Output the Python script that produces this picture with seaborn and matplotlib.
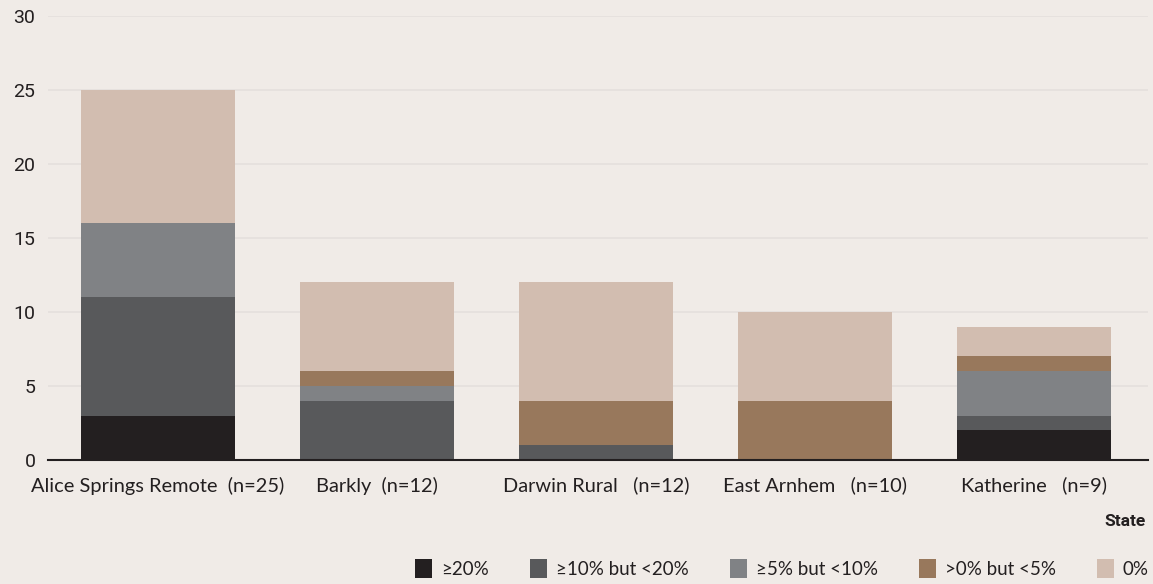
import matplotlib
matplotlib.use("Agg")
import matplotlib.pyplot as plt
from matplotlib.patches import Patch
import numpy as np
import pandas as pd
import seaborn as sns

# Districts and counts per prevalence band
states = [
    "Alice Springs Remote  (n=25)",
    "Barkly  (n=12)",
    "Darwin Rural   (n=12)",
    "East Arnhem   (n=10)",
    "Katherine   (n=9)",
]
band_labels = ["≥20%", "≥10% but <20%", "≥5% but <10%", ">0% but <5%", "0%"]
ge20 = [3, 0, 0, 0, 2]
ge10_lt20 = [8, 4, 1, 0, 1]
ge5_lt10 = [5, 1, 0, 0, 3]
gt0_lt5 = [0, 1, 3, 4, 1]
zero = [9, 6, 8, 6, 2]
y_ticks = [0, 5, 10, 15, 20, 25, 30]

colors = ["#231F20", "#58595B", "#808285", "#98785C", "#D2BDB0"]
bg = "#F0EBE7"

sns.set_theme(style="white")
plt.rcParams["font.family"] = ["Lato", "DejaVu Sans"]

fig = plt.figure(figsize=(11.53, 5.84), dpi=100, facecolor=bg)
ax = fig.add_axes([0.0416, 0.2123, 0.954, 0.7603])
ax.set_facecolor(bg)

series = [ge20, ge10_lt20, ge5_lt10, gt0_lt5, zero]
df = pd.DataFrame({lab: vals for lab, vals in zip(band_labels, series)}, index=states)
cum = df.cumsum(axis=1)

# Stacked bars: draw the cumulative totals from the top band down
for lab, col in reversed(list(zip(band_labels, colors))):
    sns.barplot(x=states, y=cum[lab].values, color=col, saturation=1,
                width=0.703, ax=ax, edgecolor="none", linewidth=0, zorder=3)

ax.set_ylim(0, 30)
ax.set_xlim(-0.502, 4.52)
ax.set_yticks(y_ticks)
ax.yaxis.grid(True, color="#E4E0DD", linewidth=1.2, zorder=0)
ax.set_axisbelow(True)
for s in ["top", "right", "left"]:
    ax.spines[s].set_visible(False)
ax.spines["bottom"].set_color("#231F20")
ax.spines["bottom"].set_linewidth(1.5)
ax.spines["bottom"].set_zorder(5)
ax.tick_params(axis="both", length=0, colors="#231F20")
ax.tick_params(axis="y", labelsize=14, pad=9)
ax.tick_params(axis="x", labelsize=14.4, pad=12)
for t in ax.get_yticklabels():
    t.set_family(["Roboto", "DejaVu Sans"])
ax.set_xlabel("")
ax.set_ylabel("")

fig.text(0.9935, 0.107, "State", ha="right", va="center", fontsize=12.5,
         fontweight="bold", family=["Roboto", "DejaVu Sans"], color="#231F20")

handles = [Patch(facecolor=c, edgecolor="none") for c in colors]
fig.legend(handles, band_labels, loc="center right", bbox_to_anchor=(1.011, 0.026),
           ncol=5, frameon=False, fontsize=13.5, handlelength=0.9, handleheight=1.2,
           handletextpad=0.45, columnspacing=2.23, labelcolor="#231F20")

fig.savefig("out.png", dpi=100, facecolor=bg)
